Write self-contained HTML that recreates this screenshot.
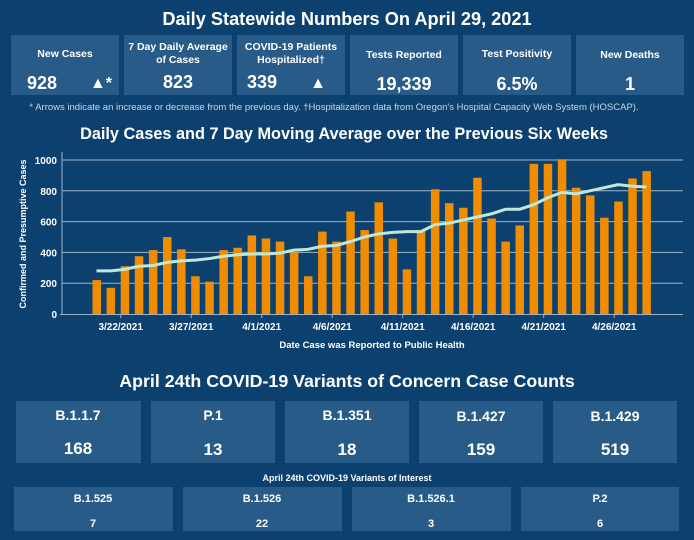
<!DOCTYPE html><html><head><meta charset="utf-8"><style>
body{margin:0;background:#0c416f;}
svg{display:block;font-family:"Liberation Sans",sans-serif;}
</style></head><body>
<svg id="s" width="694" height="540" viewBox="0 0 694 540">
<rect width="694" height="540" fill="#0c416f"/>
<g fill="#fff" font-weight="bold" text-anchor="middle">
<text x="347" y="25" font-size="18.2">Daily Statewide Numbers On April 29, 2021</text>
<rect x="11" y="35" width="108" height="60" fill="#285b87"/>
<rect x="124" y="35" width="108" height="60" fill="#285b87"/>
<rect x="237" y="35" width="108" height="60" fill="#285b87"/>
<rect x="350" y="35" width="108" height="60" fill="#285b87"/>
<rect x="463" y="35" width="108" height="60" fill="#285b87"/>
<rect x="576" y="35" width="108" height="60" fill="#285b87"/>
<g font-size="10.5">
<text x="65" y="57">New Cases</text>
<text x="178" y="50">7 Day Daily Average</text><text x="178" y="63">of Cases</text>
<text x="291" y="50">COVID-19 Patients</text><text x="291" y="63">Hospitalized†</text>
<text x="404" y="58">Tests Reported</text>
<text x="517" y="57">Test Positivity</text>
<text x="630" y="58">New Deaths</text>
</g>
<g font-size="18">
<text x="42" y="89">928</text><text x="101" y="88" font-size="16">▲*</text>
<text x="178" y="88">823</text>
<text x="262" y="88">339</text><text x="318" y="88" font-size="16">▲</text>
<text x="404" y="90">19,339</text>
<text x="517" y="90">6.5%</text>
<text x="630" y="90">1</text>
</g>
<text x="334" y="110" font-size="9.5" font-weight="normal" fill="#c9d6e3">* Arrows indicate an increase or decrease from the previous day. †Hospitalization data from Oregon's Hospital Capacity Web System (HOSCAP).</text>
<text x="344" y="139" font-size="16.3">Daily Cases and 7 Day Moving Average over the Previous Six Weeks</text>
</g>
<g id="chart"></g>
<g fill="#fff" font-weight="bold" text-anchor="middle">
<text x="372" y="348" font-size="9.5">Date Case was Reported to Public Health</text>
<text x="347" y="387" font-size="17.8">April 24th  COVID-19 Variants of Concern Case Counts</text>
<rect x="16" y="401" width="125" height="62" fill="#285b87"/>
<rect x="151" y="401" width="124" height="62" fill="#285b87"/>
<rect x="285" y="401" width="124" height="62" fill="#285b87"/>
<rect x="419" y="401" width="124" height="62" fill="#285b87"/>
<rect x="553" y="401" width="124" height="62" fill="#285b87"/>
<g font-size="14"><text x="78" y="420">B.1.1.7</text><text x="213" y="420">P.1</text><text x="347" y="420">B.1.351</text><text x="481" y="421">B.1.427</text><text x="615" y="421">B.1.429</text></g>
<g font-size="17"><text x="78" y="454">168</text><text x="213" y="455">13</text><text x="347" y="455">18</text><text x="481" y="455">159</text><text x="615" y="455">519</text></g>
<text x="347" y="481" font-size="9">April 24th COVID-19 Variants of Interest</text>
<rect x="14" y="487" width="159" height="44" fill="#285b87"/>
<rect x="183" y="487" width="159" height="44" fill="#285b87"/>
<rect x="352" y="487" width="159" height="44" fill="#285b87"/>
<rect x="521" y="487" width="158" height="44" fill="#285b87"/>
<g font-size="11"><text x="93" y="502">B.1.525</text><text x="262" y="502">B.1.526</text><text x="431" y="502">B.1.526.1</text><text x="600" y="502">P.2</text>
<text x="93" y="527">7</text><text x="262" y="527">22</text><text x="431" y="527">3</text><text x="600" y="527">6</text></g>
</g>
</svg>
<script>
var v=[220,170,310,375,415,500,420,245,210,415,430,510,490,470,400,245,535,470,665,545,725,490,290,545,810,720,690,885,620,470,575,975,975,1005,820,770,625,730,880,928];
var a=[280,280,290,310,315,335,345,350,360,375,385,390,390,395,415,420,440,445,470,500,520,530,535,535,580,590,610,630,650,680,680,710,755,790,780,800,820,840,830,825];
var ns="http://www.w3.org/2000/svg",g=document.getElementById("chart");
function el(t,o,txt){var e=document.createElementNS(ns,t);for(var k in o)e.setAttribute(k,o[k]);if(txt)e.textContent=txt;g.appendChild(e);return e;}
function Y(x){return 314-x*0.154;}
function X(i){return 96.5+i*14.1;}
[0,200,400,600,800,1000].forEach(function(t){
 if(t>0)el("line",{x1:62,x2:683,y1:Y(t),y2:Y(t),stroke:"#9fb4c8","stroke-width":1});
 el("text",{x:57,y:Y(t)+4,"text-anchor":"end",fill:"#fff","font-size":"10","font-weight":"bold"},String(t));
});
el("line",{x1:62,x2:62,y1:152,y2:314,stroke:"#9fb4c8"});
el("line",{x1:60,x2:683,y1:314.5,y2:314.5,stroke:"#9fb4c8"});
v.forEach(function(x,i){el("rect",{x:X(i)-4,y:Y(x),width:8.5,height:x*0.154,fill:"#f08c00"});});
var p=a.map(function(x,i){return X(i)+","+Y(x)}).join(" ");
el("polyline",{points:p,fill:"none",stroke:"#bfe8dc","stroke-width":3,"stroke-linejoin":"round"});
[[2,"3/22/2021"],[7,"3/27/2021"],[12,"4/1/2021"],[17,"4/6/2021"],[22,"4/11/2021"],[27,"4/16/2021"],[32,"4/21/2021"],[37,"4/26/2021"]].forEach(function(d){
 var x=X(d[0])-4;el("line",{x1:x,x2:x,y1:314,y2:318,stroke:"#9fb4c8"});
 el("text",{x:x,y:330,"text-anchor":"middle",fill:"#fff","font-size":"10","font-weight":"bold"},d[1]);
});
el("text",{transform:"translate(26,234) rotate(-90)","text-anchor":"middle",fill:"#fff","font-size":"9","font-weight":"bold"},"Confirmed and Presumptive Cases");
</script>
</body></html>
